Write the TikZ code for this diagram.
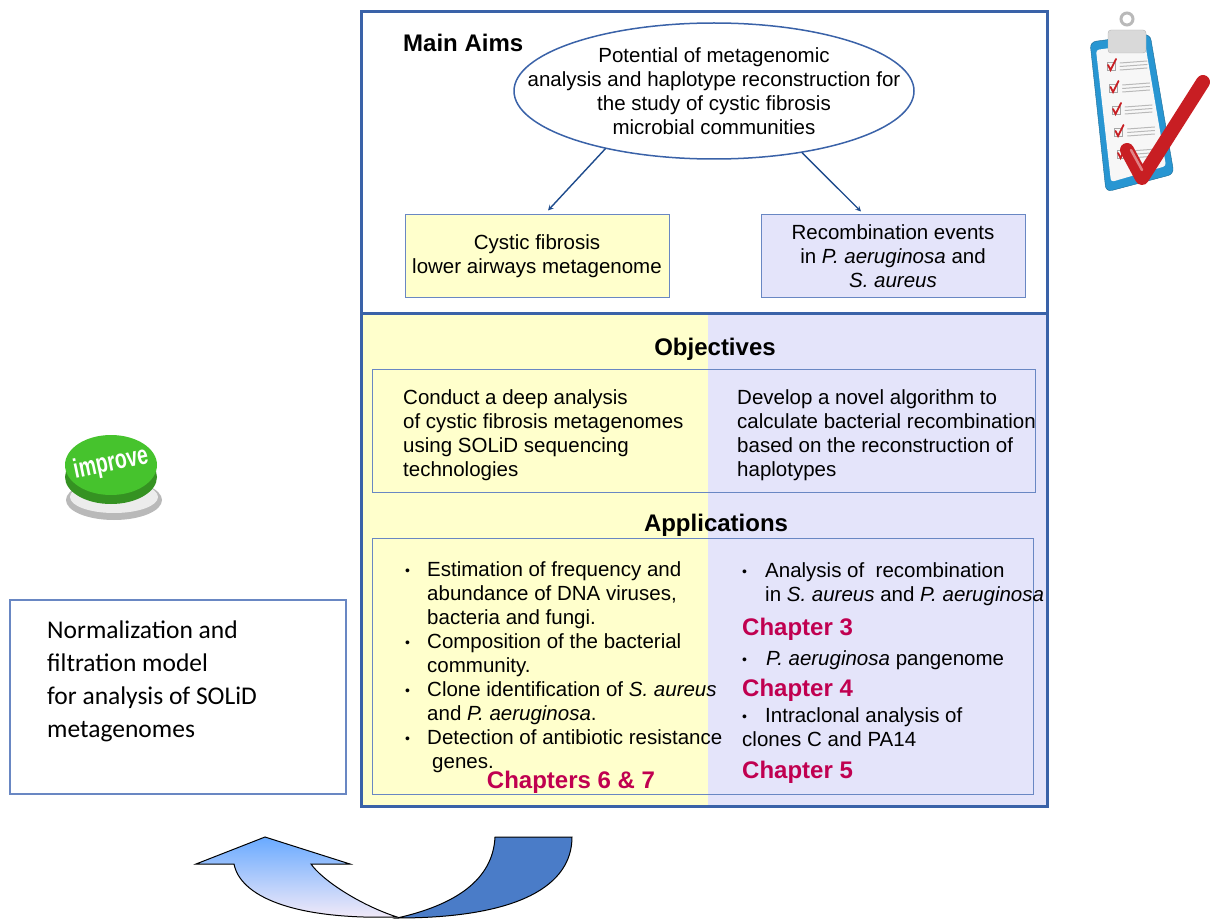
\documentclass[tikz,border=0pt]{standalone}
\usepackage{fontspec}
\setmainfont{Liberation Sans}
\newfontfamily\calibfont{Carlito}
\usepackage{tikz}
\usetikzlibrary{arrows}
\usetikzlibrary{shapes,positioning}
\tikzset{>=stealth}

\definecolor{framebl}{RGB}{58,98,168}
\definecolor{linebl}{RGB}{105,135,195}
\definecolor{arrowbl}{RGB}{30,75,140}
\definecolor{paleyel}{RGB}{255,255,204}
\definecolor{palelav}{RGB}{228,228,250}
\definecolor{chapred}{RGB}{192,0,80}
\definecolor{turnbl}{RGB}{74,124,200}
\definecolor{turnlt}{RGB}{105,170,255}
\definecolor{turnpk}{RGB}{246,236,248}
\definecolor{btngreen}{RGB}{70,195,45}
\definecolor{boardbl}{RGB}{40,150,210}
\definecolor{tickred}{RGB}{200,30,35}

\newcommand{\bodyfont}{\fontsize{20.5pt}{24pt}\selectfont}
\newcommand{\headfont}{\fontsize{24pt}{28pt}\selectfont\bfseries}
\newcommand{\appdot}{\raisebox{0.5pt}{\fontsize{14pt}{14pt}\selectfont\textbullet}}
\newcommand{\appbul}{\makebox[22pt][l]{\appdot}}
\newcommand{\appind}{\hspace*{22pt}}

\tikzset{
  frame/.style={draw=framebl, line width=3pt},
  thinbox/.style={draw=linebl, line width=1pt},
  head/.style={font=\headfont, inner sep=0pt},
  chap/.style={font=\headfont, text=chapred, inner sep=0pt},
  txt/.style={font=\bodyfont, align=left, inner sep=0pt, anchor=north west},
  aim/.style={ellipse, draw=framebl, line width=1.5pt, fill=white,
    minimum width=400pt, minimum height=136pt, inner sep=0pt},
  goal/.style={rectangle, draw=linebl, line width=1pt,
    minimum width=264pt, minimum height=82pt, align=center, font=\bodyfont},
  aimarrow/.style={->, draw=arrowbl, line width=1.4pt}
}

\begin{document}
\begin{tikzpicture}[x=1pt,y=-1pt,line cap=round]

  \useasboundingbox (0,0) rectangle (1210,920);

  % two coloured halves of the lower panel
  \fill [paleyel] (361,313) rectangle (708,806);
  \fill [palelav] (708,313) rectangle (1047,806);
  \draw [frame] (361,12) rectangle (1047,313);
  \draw [frame] (361,313) rectangle (1047,806);

  % main aims
  \node [head, anchor=base west] (mainaims) at (403,52) {Main Aims};
  \node [aim] (aim) at (714,91) {};
  \node [font=\bodyfont, align=center, inner sep=0pt] (aimtext) at (aim.center) {Potential of metagenomic\\analysis and haplotype reconstruction for\\the study of cystic fibrosis\\microbial communities};

  \node [goal, fill=paleyel] (cf) at (537,256) {Cystic fibrosis\\lower airways metagenome};
  \node [goal, fill=palelav] (rec) at (893,256) {Recombination events\\in \textit{P. aeruginosa} and\\\textit{S. aureus}};

  \draw [aimarrow] (aim.208) -- ([xshift=11pt,yshift=4pt]cf.north);
  \draw [aimarrow] (aim.325) -- ([xshift=-32pt,yshift=3pt]rec.north);

  % objectives
  \node [head, anchor=base] (obj) at (715,355) {Objectives};
  \draw [thinbox] (372,369) rectangle (1035,492);
  \node [txt] (objl) at (403,389) {Conduct a deep analysis\\of cystic fibrosis metagenomes\\using SOLiD sequencing\\technologies};
  \node [txt] (objr) at (737,389) {Develop a novel algorithm to\\calculate bacterial recombination\\based on the reconstruction of\\haplotypes};

  % applications
  \node [head, anchor=base] (app) at (716,531) {Applications};
  \draw [thinbox] (372,538) rectangle (1033,794);

  \node [txt] (appl) at (405,561) {\appbul Estimation of frequency and\\\appind abundance of DNA viruses,\\\appind bacteria and fungi.\\\appbul Composition of the bacterial\\\appind community.\\\appbul Clone identification of \textit{S. aureus}\\\appind and \textit{P. aeruginosa}.\\\appbul Detection of antibiotic resistance\\\hspace*{27pt}genes.};
  \node [chap, anchor=base] (ch67) at (571,788) {Chapters 6 \& 7};

  \node [txt] (appr1) at (742,562) {\makebox[23pt][l]{\appdot}Analysis of\ \ recombination\\\hspace*{23pt}in \textit{S. aureus} and \textit{P. aeruginosa}};
  \node [chap, anchor=base west] (ch3) at (742,635) {Chapter 3};
  \node [txt] (appr2) at (742,650) {\makebox[24pt][l]{\appdot}\textit{P. aeruginosa} pangenome};
  \node [chap, anchor=base west] (ch4) at (742,696) {Chapter 4};
  \node [txt] (appr3) at (742,707) {\makebox[23pt][l]{\appdot}Intraclonal analysis of\\clones C and PA14};
  \node [chap, anchor=base west] (ch5) at (742,778) {Chapter 5};

  % normalization box on the left
  \draw [thinbox, line width=1.2pt] (10,600) rectangle (346,794);
  \node [txt, font=\calibfont\fontsize{25.5pt}{33pt}\selectfont] (norm) at (47,621) {Normalization and\\filtration model\\for analysis of SOLiD\\metagenomes};

  % turn-back arrow
  \shade [top color=turnlt, bottom color=turnpk, draw=black, line width=1pt, line join=miter]
    (196,864) -- (265,837) -- (350,864) -- (311,864)
    .. controls (322,880) and (360,905) .. (397,917)
    .. controls (290,920) and (240,895) .. (234,864) -- cycle;
  \filldraw [fill=turnbl, draw=black, line width=1pt]
    (495,837) -- (572,837)
    .. controls (572,885) and (520,918) .. (397,918)
    .. controls (455,905) and (493,880) .. (495,837) -- cycle;

  % improve button
  \fill [gray!55] (114,500) ellipse (48pt and 20pt);
  \fill [gray!15] (114,497) ellipse (44pt and 16pt);
  \fill [btngreen!75!black] (111,477) ellipse (46pt and 27pt);
  \fill [btngreen] (111,465) ellipse (46pt and 30pt);
  \node [rotate=12, xscale=0.72, text=white, font=\fontsize{27pt}{27pt}\selectfont\bfseries] (improve) at (111,464) {improve};

  % clipboard with ticks
  \filldraw [fill=boardbl, draw=boardbl!70!black, rounded corners=6pt] (1090,42) -- (1150,34) -- (1174,174) -- (1106,192) -- cycle;
  \fill [white!94!gray, rounded corners=3pt] (1096,50) -- (1145,43) -- (1166,166) -- (1111,182) -- cycle;
  \foreach \i in {0,...,4} {
    \pgfmathsetmacro{\ry}{62+22*\i}
    \pgfmathsetmacro{\rx}{1107+2.5*\i}
    \draw [gray!70, line width=0.8pt] (\rx,\ry) rectangle ++(8,8);
    \draw [tickred, line width=1.8pt] (\rx+1,\ry+3) -- (\rx+3.5,\ry+8) -- (\rx+9,\ry-3);
    \foreach \k in {0,1,2}
      \draw [gray!55, line width=1pt] (\rx+13,\ry+1+\k*3.5) -- (\rx+40,\ry-1+\k*3.5);
  }
  \filldraw [fill=gray!30, draw=gray!60, rounded corners=3pt] (1108,30) rectangle (1146,53);
  \draw [gray!55, line width=3pt] (1127,19) circle (6pt);
  \draw [tickred, line width=14pt, line join=round] (1127,150) -- (1142,178) -- (1203,82);
  \draw [tickred!55!white, line width=2.5pt] (1131,150) -- (1142,170);

\end{tikzpicture}
\end{document}
